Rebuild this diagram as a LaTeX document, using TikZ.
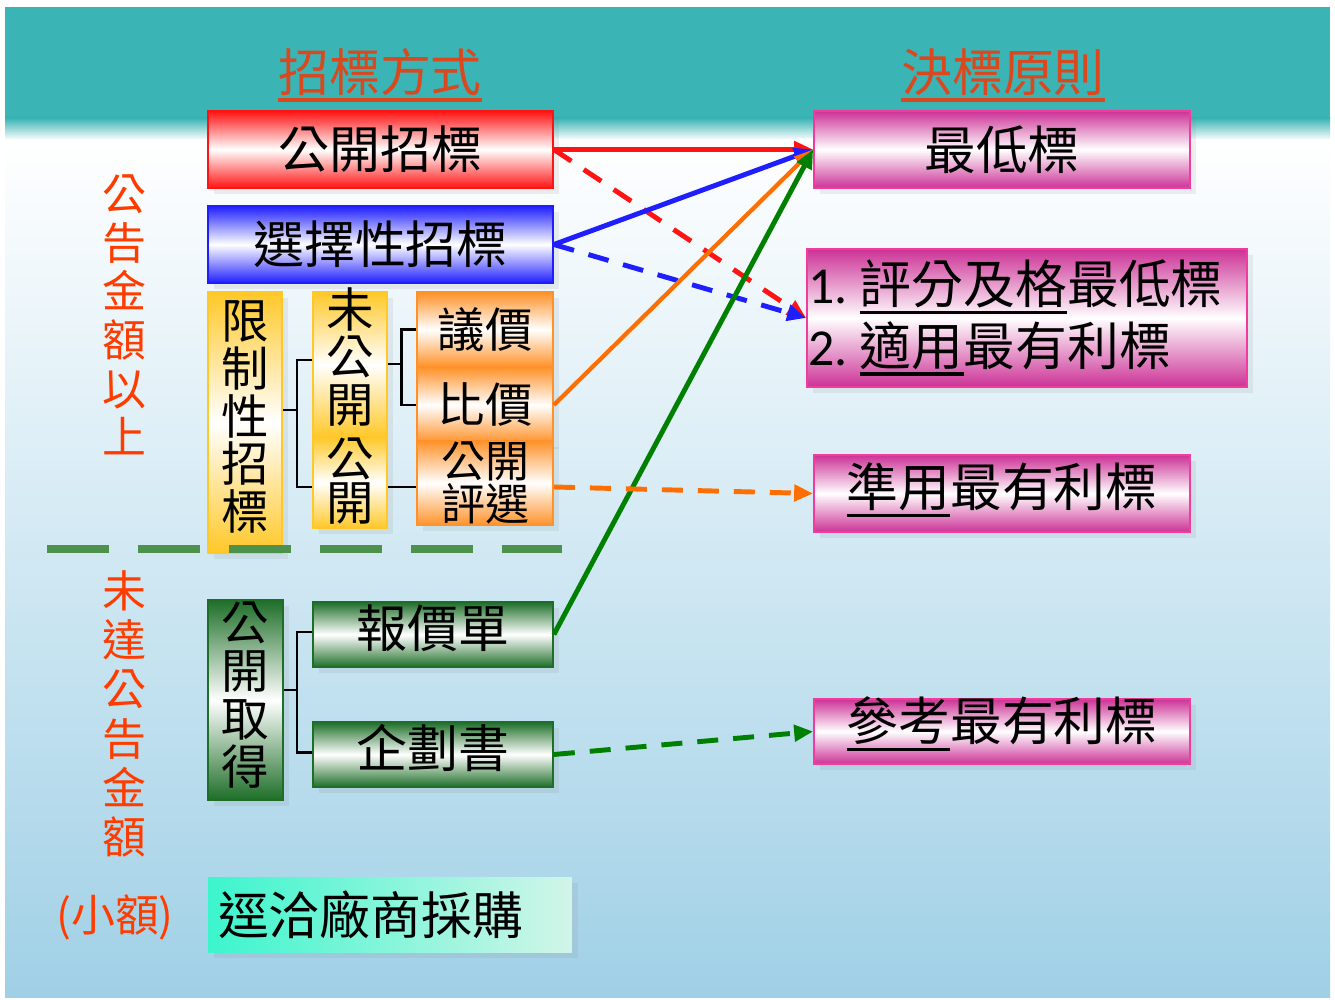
\documentclass[tikz,border=0pt]{standalone}
\usepackage{fontspec}
\setmainfont{Noto Sans CJK TC}
\newfontfamily\latinf{Carlito}
\usetikzlibrary{arrows.meta,shadows}
\definecolor{tealbg}{RGB}{58,180,180}
\definecolor{bgmid}{RGB}{222,236,245}
\definecolor{bgbot}{RGB}{160,208,230}
\definecolor{hdr}{RGB}{218,72,30}
\definecolor{lbl}{RGB}{255,60,0}
\definecolor{redc}{RGB}{255,20,20}
\definecolor{bluec}{RGB}{30,30,255}
\definecolor{goldc}{RGB}{255,200,40}
\definecolor{orgc}{RGB}{255,145,40}
\definecolor{orgline}{RGB}{255,110,0}
\definecolor{grnc}{RGB}{30,110,40}
\definecolor{grnline}{RGB}{0,128,0}
\definecolor{dashgrn}{RGB}{76,145,76}
\definecolor{pinkc}{RGB}{204,50,150}
\definecolor{pinkb}{RGB}{240,60,156}
\definecolor{aqua}{RGB}{60,245,205}
\definecolor{aqua2}{RGB}{210,245,232}
\newcommand\myul[1]{\setbox0=\hbox{#1}\rlap{\vrule height -4pt depth 5.9pt width \wd0}\box0}
\begin{document}
\begin{tikzpicture}[x=0.02cm,y=-0.02cm,
  shd/.style={drop shadow={opacity=0.12,shadow xshift=0.12cm,shadow yshift=-0.12cm,fill=gray}},
  box/.style={shd,draw,line width=1pt,inner sep=0pt,text=black,font=\fontsize{29}{30}\selectfont},
  txt/.style={inner sep=0pt,text=black,align=center,font=\fontsize{29}{30}\selectfont},
  redbox/.style={box,draw=redc,top color=redc,bottom color=redc,middle color=white},
  bluebox/.style={box,draw=bluec,top color=bluec,bottom color=bluec,middle color=white},
  goldbox/.style={box,draw=goldc,top color=goldc,bottom color=goldc,middle color=white,align=center},
  orgbox/.style={box,draw=orgc,top color=orgc,bottom color=orgc,middle color=white},
  grnbox/.style={box,draw=grnc,top color=grnc,bottom color=grnc,middle color=white},
  pinkbox/.style={box,draw=pinkb,top color=pinkc,bottom color=pinkc,middle color=white,font=\fontsize{29.5}{30}\selectfont},
  pinktxt/.style={txt,font=\fontsize{29.5}{30}\selectfont},
  aquabox/.style={box,draw=none,left color=aqua,right color=aqua2},
  vfont/.style={font=\fontsize{27}{27.2}\selectfont},
  side/.style={text=lbl,align=center,font=\fontsize{25}{27.7}\selectfont},
  hd/.style={text=hdr,font=\fontsize{29}{30}\selectfont},
  conn/.style={line width=2.8pt},
  arr/.style={conn,-{Triangle[length=0.38cm,width=0.32cm]}},
  dsh/.style={dash pattern=on 0.42cm off 0.3cm},
  brk/.style={line width=1.7pt,black}]
\useasboundingbox (0,0) rectangle (1335,1000);
% background
\fill[white] (0,0) rectangle (1335,1000);
\fill[tealbg] (5,7) rectangle (1330,119);
\shade[top color=tealbg,bottom color=white] (5,118) rectangle (1330,140);
\shade[top color=white,middle color=bgmid,bottom color=bgbot] (5,140) rectangle (1330,997);
% headers
\node[hd] (h1) at (380,75) {\myul{招標方式}};
\node[hd] (h2) at (1003,75) {\myul{決標原則}};
% side labels
\node[side] (l1) at (124,315) {公\\告\\金\\額\\以\\上};
\node[side,font=\fontsize{25}{28.1}\selectfont] (l2) at (124,714) {未\\達\\公\\告\\金\\額};
\node[text=lbl,font=\fontsize{25}{28}\selectfont] (l3) at (115,917) {(小額)};
% left boxes
\node[redbox,minimum width=6.9cm,minimum height=1.54cm] (gk) at (380.5,149.5) {公開招標};
\node[bluebox,minimum width=6.9cm,minimum height=1.54cm] (xz) at (380.5,244.5) {選擇性招標};
\node[goldbox,minimum width=1.48cm,minimum height=5.22cm] (xzx) at (245,422.5) {};
\node[txt,vfont] (xzx-t) at (245,417) {限\\制\\性\\招\\標};
\node[goldbox,minimum width=1.48cm,minimum height=2.9cm] (wgk) at (350,364.5) {};
\node[txt,vfont] (wgk-t) at (350,357) {未\\公\\開};
\node[goldbox,minimum width=1.48cm,minimum height=1.82cm] (gkk) at (350,482.5) {};
\node[txt,font=\fontsize{27}{25.5}\selectfont] (gkk-t) at (350,481) {公\\開};
\node[orgbox,font=\fontsize{27}{28}\selectfont,minimum width=2.72cm,minimum height=1.5cm] (yj) at (485,329.5) {議價};
\node[orgbox,font=\fontsize{27}{28}\selectfont,minimum width=2.72cm,minimum height=1.52cm] (bj) at (485,405) {比價};
\node[orgbox,align=center,font=\fontsize{25}{22.7}\selectfont,minimum width=2.72cm,minimum height=1.7cm] (gkpx) at (485,483) {公開\\評選};
\node[grnbox,minimum width=1.5cm,minimum height=4cm] (gkqd) at (245.5,700) {};
\node[txt,vfont] (gkqd-t) at (245.5,695) {公\\開\\取\\得};
\node[grnbox,minimum width=4.8cm,minimum height=1.3cm] (bjd) at (433,634.5) {};
\node[txt] (bjd-t) at (433,628) {報價單};
\node[grnbox,minimum width=4.8cm,minimum height=1.3cm] (qhs) at (433,754.5) {};
\node[txt] (qhs-t) at (433,748) {企劃書};
\node[aquabox,minimum width=7.28cm,minimum height=1.5cm,text width=6.88cm,inner xsep=0.2cm,align=left] (jq) at (390,914.5) {逕洽廠商採購};
% right boxes
\node[pinkbox,minimum width=7.52cm,minimum height=1.54cm] (zdb) at (1002,149.5) {最低標};
\node[pinkbox,minimum width=8.8cm,minimum height=2.76cm,text width=8.75cm,inner xsep=0.025cm,align=left,font=\fontsize{29.5}{35}\selectfont] (pf) at (1027,318) {{\latinf 1.}\hspace{7pt}\myul{評分及格}最低標\\{\latinf 2.}\hspace{7pt}\myul{適用}最有利標};
\node[pinkbox,minimum width=7.52cm,minimum height=1.54cm] (zy) at (1002,493.5) {};
\node[pinktxt] (zy-t) at (1002,490) {\myul{準用}最有利標};
\node[pinkbox,minimum width=7.52cm,minimum height=1.3cm] (ck) at (1002,731.5) {};
\node[pinktxt] (ck-t) at (1002,724) {\myul{參考}最有利標};
% separator
\draw[dashgrn,line width=4pt,dash pattern=on 1.24cm off 0.58cm] (47,549) -- (562,549);
% brackets
\draw[brk] (wgk.west |- 0,360) -| (297,487) -- (gkk.west |- 0,487);
\draw[brk] (297,410) -- (xzx.east |- 0,410);
\draw[brk] (yj.west) -- ++(-15,0) |- (bj.west);
\draw[brk] (wgk.east |- 0,364) -- (402,364);
\draw[brk] (gkk.east |- 0,487) -- (gkpx.west |- 0,487);
\draw[brk] (bjd.west |- 0,632) -| (297,752) -- (qhs.west |- 0,752);
\draw[brk] (gkqd.east |- 0,690) -- (297,690);
% connectors
\draw[arr,redc,dsh] (gk.east) -- (pf.west);
\draw[arr,bluec,dsh] (xz.east) -- (pf.west);
\draw[arr,redc] (gk.east) -- (zdb.west);
\draw[arr,bluec] (xz.east) -- (zdb.west);
\draw[arr,orgline,line width=2.4pt] (bj.east) -- (zdb.west);
\draw[arr,grnline] (bjd.east) -- (zdb.west);
\draw[arr,orgline,dsh] (gkpx.east |- 0,487) -- (zy.west);
\draw[arr,grnline,dsh] (qhs.east) -- (ck.west);
\end{tikzpicture}
\end{document}
